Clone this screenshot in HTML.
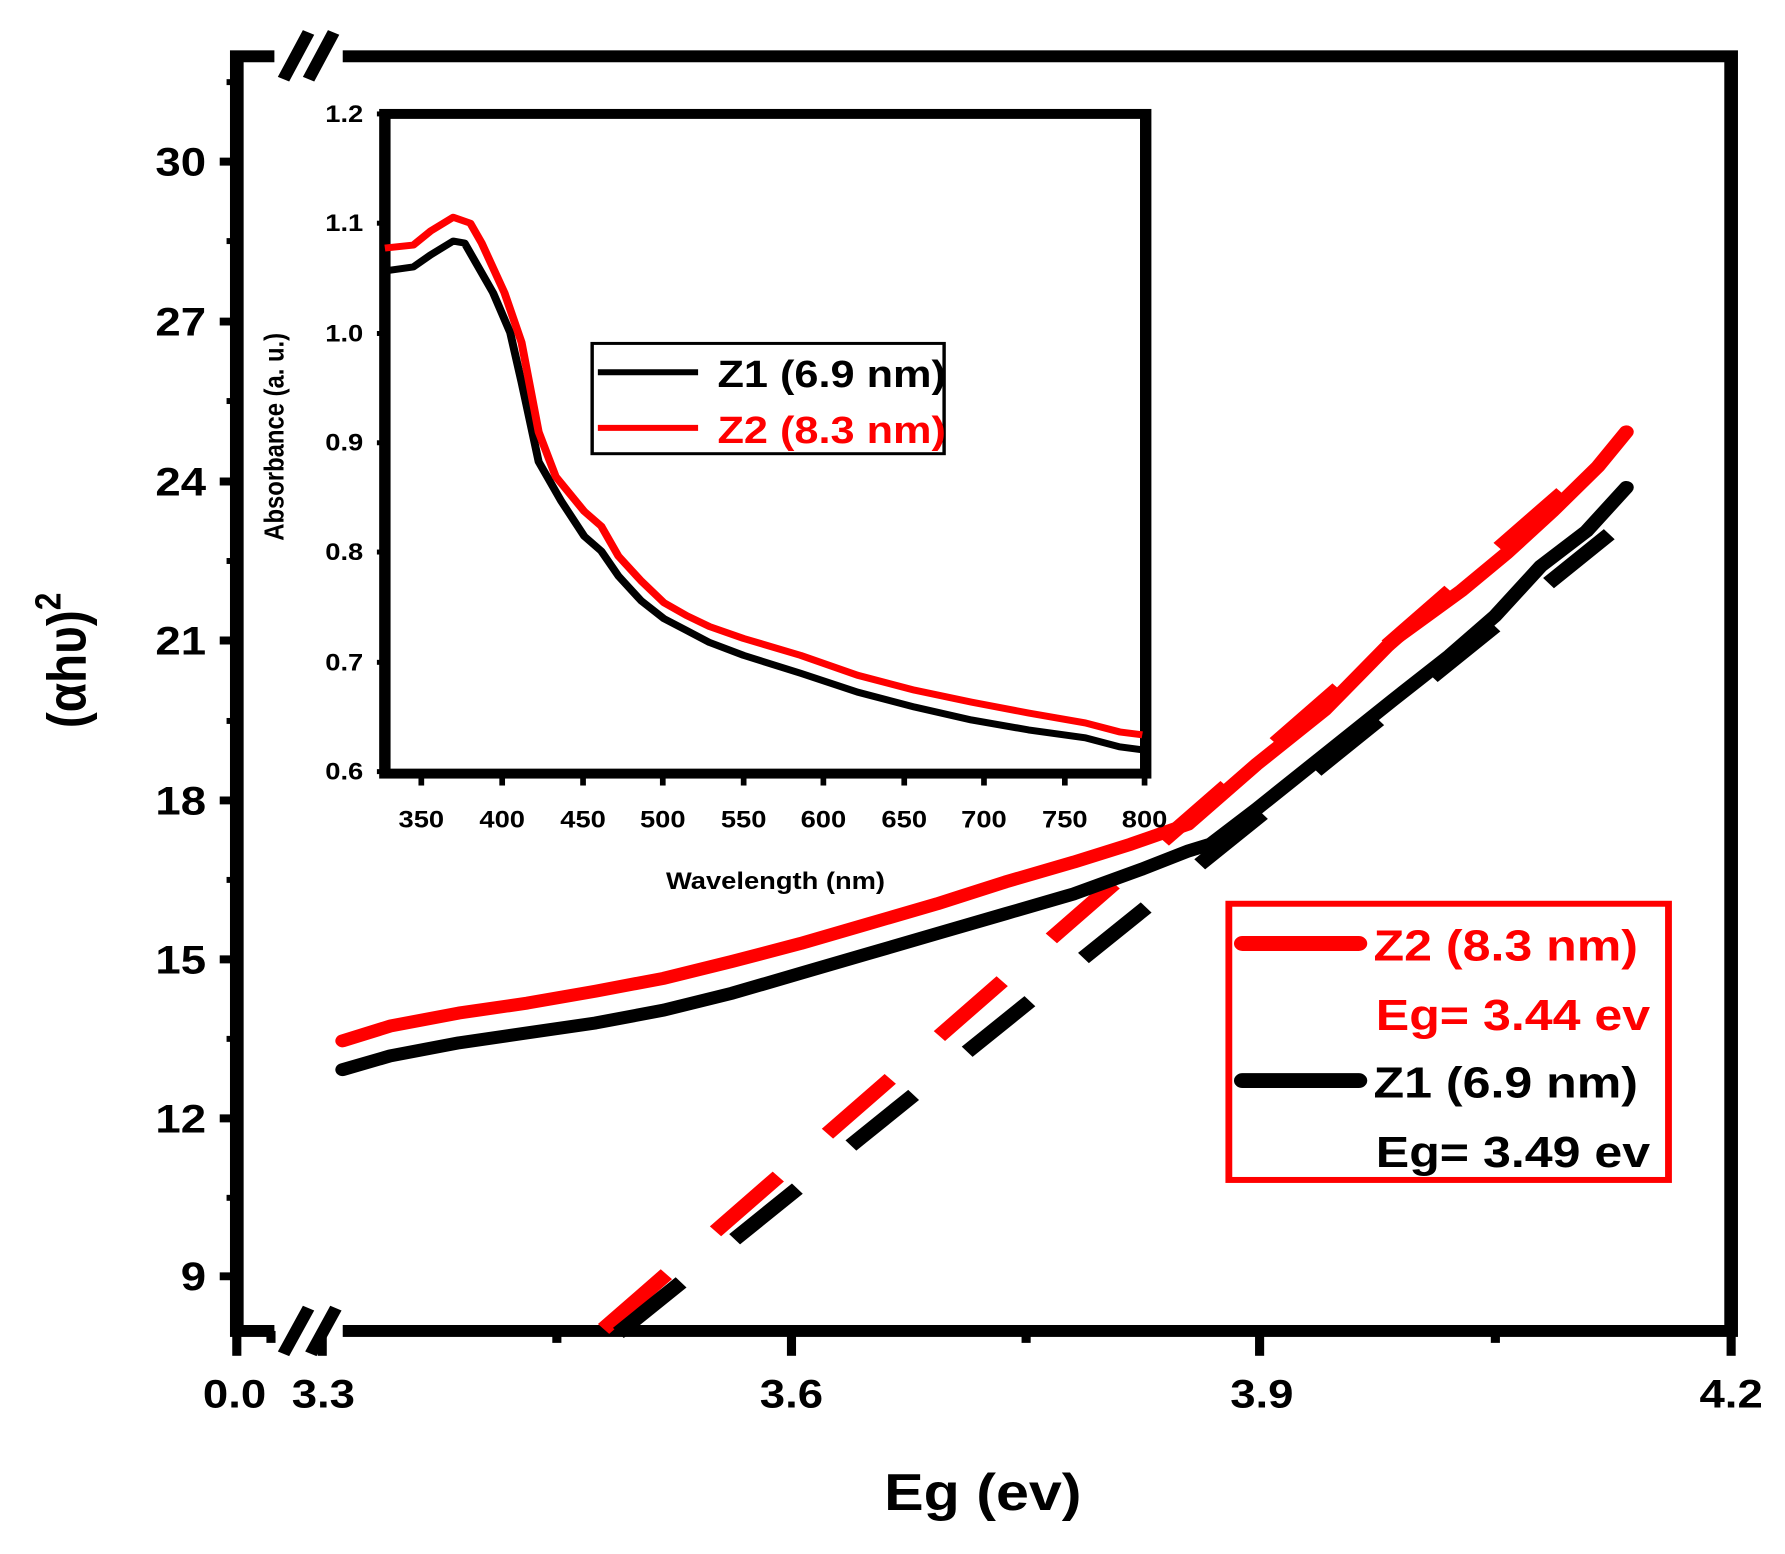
<!DOCTYPE html>
<html><head><style>
html,body{margin:0;padding:0;background:#fff;}
svg{display:block;}
text{font-family:"Liberation Sans",sans-serif;font-weight:bold;}
</style></head><body>
<svg width="1785" height="1554" viewBox="0 0 1560 1554" preserveAspectRatio="none" xmlns="http://www.w3.org/2000/svg">
<rect width="1560" height="1554" fill="#fff"/>
<g transform="matrix(0.9954 0 0 0.9935 2.9 -5.3)">
<rect x="205" y="62" width="1312" height="1283" fill="none" stroke="#000" stroke-width="12"/>
<rect x="238" y="50" width="60" height="24" fill="#fff"/>
<g stroke="#000" stroke-width="11">
<line x1="246" y1="85" x2="268" y2="38"/><line x1="268" y1="85" x2="290" y2="38"/>
</g>
<rect x="238" y="1330" width="60" height="30" fill="#fff"/>
<g stroke="#000" stroke-width="11">
<line x1="246" y1="1368" x2="268" y2="1322"/><line x1="270" y1="1368" x2="292" y2="1322"/>
</g>
<g stroke="#000" stroke-width="8">
<line x1="190" y1="168" x2="205" y2="168"/><line x1="190" y1="329" x2="205" y2="329"/>
<line x1="190" y1="490" x2="205" y2="490"/><line x1="190" y1="650" x2="205" y2="650"/>
<line x1="190" y1="811" x2="205" y2="811"/><line x1="190" y1="971" x2="205" y2="971"/>
<line x1="190" y1="1131" x2="205" y2="1131"/><line x1="190" y1="1290" x2="205" y2="1290"/>
</g>
<g stroke="#000" stroke-width="6">
<line x1="196" y1="88" x2="205" y2="88"/><line x1="196" y1="248" x2="205" y2="248"/>
<line x1="196" y1="409" x2="205" y2="409"/><line x1="196" y1="570" x2="205" y2="570"/>
<line x1="196" y1="731" x2="205" y2="731"/><line x1="196" y1="891" x2="205" y2="891"/>
<line x1="196" y1="1051" x2="205" y2="1051"/><line x1="196" y1="1211" x2="205" y2="1211"/>
</g>
<g stroke="#000" stroke-width="8">
<line x1="205" y1="1345" x2="205" y2="1370"/><line x1="280" y1="1345" x2="280" y2="1370"/>
<line x1="692" y1="1345" x2="692" y2="1370"/><line x1="1103" y1="1345" x2="1103" y2="1370"/>
<line x1="1517" y1="1345" x2="1517" y2="1370"/>
<line x1="235" y1="1345" x2="235" y2="1357"/><line x1="486" y1="1345" x2="486" y2="1357"/>
<line x1="898" y1="1345" x2="898" y2="1357"/><line x1="1310" y1="1345" x2="1310" y2="1357"/>
</g>
<g font-size="40" text-anchor="end">
<text x="178" y="182">30</text><text x="178" y="343">27</text><text x="178" y="504">24</text>
<text x="178" y="664">21</text><text x="178" y="825">18</text><text x="178" y="985">15</text>
<text x="178" y="1145">12</text><text x="178" y="1304">9</text>
</g>
<g font-size="40" text-anchor="middle">
<text x="203" y="1422">0.0</text><text x="281" y="1422">3.3</text><text x="692" y="1422">3.6</text>
<text x="1105" y="1422">3.9</text><text x="1517" y="1422">4.2</text>
</g>
<text x="860" y="1525" font-size="52" text-anchor="middle">Eg (ev)</text>
<text transform="translate(72,670) rotate(-90)" font-size="48" text-anchor="middle">(αhυ)<tspan dy="-22" font-size="32">2</tspan></text>
<line x1="527" y1="1343" x2="1372" y2="498" stroke="#f00" stroke-width="14" stroke-dasharray="78 61"/>
<line x1="540" y1="1347" x2="1410" y2="543" stroke="#000" stroke-width="14" stroke-dasharray="75 64"/>
<polyline fill="none" stroke="#000" stroke-width="13" stroke-linecap="round" stroke-linejoin="round" points="298,1082 340,1068 400,1055 460,1045 520,1035 580,1022 640,1005 700,985 760,965 820,945 880,925 940,905 1000,880 1040,862 1060,855 1100,820 1160,765 1220,710 1270,665 1310,625 1350,575 1390,540 1425,496"/>
<polyline fill="none" stroke="#f00" stroke-width="13" stroke-linecap="round" stroke-linejoin="round" points="298,1053 340,1038 400,1025 460,1015 520,1003 580,990 640,973 700,955 760,935 820,915 880,893 940,873 990,855 1040,835 1060,815 1100,775 1160,720 1220,650 1280,600 1320,562 1360,520 1400,475 1425,440"/>
<rect x="1076" y="915" width="386" height="278" fill="#fff" stroke="#f00" stroke-width="6"/>
<line x1="1088" y1="955" x2="1190" y2="955" stroke="#f00" stroke-width="15" stroke-linecap="round"/>
<line x1="1088" y1="1093" x2="1190" y2="1093" stroke="#000" stroke-width="15" stroke-linecap="round"/>
<g font-size="44">
<text x="1203" y="972" fill="#f00">Z2 (8.3 nm)</text>
<text x="1205" y="1042" fill="#f00">Eg= 3.44 ev</text>
<text x="1203" y="1110">Z1 (6.9 nm)</text>
<text x="1205" y="1180">Eg= 3.49 ev</text>
</g>
<rect x="335" y="120" width="668" height="664" fill="#fff" stroke="#000" stroke-width="10"/>
<g stroke="#000" stroke-width="5">
<line x1="328" y1="120" x2="335" y2="120"/><line x1="328" y1="230" x2="335" y2="230"/>
<line x1="328" y1="341" x2="335" y2="341"/><line x1="328" y1="451" x2="335" y2="451"/>
<line x1="328" y1="561" x2="335" y2="561"/><line x1="328" y1="672" x2="335" y2="672"/>
<line x1="328" y1="782" x2="335" y2="782"/>
<line x1="367" y1="784" x2="367" y2="796"/><line x1="438" y1="784" x2="438" y2="796"/>
<line x1="509" y1="784" x2="509" y2="796"/><line x1="579" y1="784" x2="579" y2="796"/>
<line x1="650" y1="784" x2="650" y2="796"/><line x1="720" y1="784" x2="720" y2="796"/>
<line x1="791" y1="784" x2="791" y2="796"/><line x1="861" y1="784" x2="861" y2="796"/>
<line x1="932" y1="784" x2="932" y2="796"/><line x1="1002" y1="784" x2="1002" y2="796"/>
</g>
<g font-size="24" text-anchor="end">
<text x="316" y="128">1.2</text><text x="316" y="238">1.1</text><text x="316" y="349">1.0</text>
<text x="316" y="459">0.9</text><text x="316" y="569">0.8</text><text x="316" y="680">0.7</text>
<text x="316" y="790">0.6</text>
</g>
<g font-size="24" text-anchor="middle">
<text x="367" y="838">350</text><text x="438" y="838">400</text><text x="509" y="838">450</text>
<text x="579" y="838">500</text><text x="650" y="838">550</text><text x="720" y="838">600</text>
<text x="791" y="838">650</text><text x="861" y="838">700</text><text x="932" y="838">750</text>
<text x="1002" y="838">800</text>
</g>
<text x="678" y="900" font-size="24" text-anchor="middle">Wavelength (nm)</text>
<text transform="translate(246,445) rotate(-90)" font-size="24" text-anchor="middle">Absorbance (a. u.)</text>
<polyline fill="none" stroke="#000" stroke-width="7" stroke-linejoin="round" points="335,278 360,274 375,262 395,248 405,250 415,270 430,300 445,340 455,390 470,470 490,510 510,545 525,560 540,585 560,610 580,628 600,640 620,652 650,665 700,683 750,702 800,717 850,730 900,740 950,748 980,757 1000,760"/>
<polyline fill="none" stroke="#f00" stroke-width="7" stroke-linejoin="round" points="335,255 360,252 375,238 395,224 410,230 420,250 440,300 455,350 470,440 485,485 510,520 525,535 540,565 560,590 580,612 600,625 620,636 650,648 700,665 750,685 800,700 850,712 900,723 950,733 980,742 1000,745"/>
<rect x="517" y="351" width="309" height="111" fill="#fff" stroke="#000" stroke-width="3"/>
<line x1="522" y1="380" x2="610" y2="380" stroke="#000" stroke-width="6"/>
<line x1="522" y1="436" x2="610" y2="436" stroke="#f00" stroke-width="6"/>
<g font-size="38">
<text x="627" y="395">Z1 (6.9 nm)</text>
<text x="627" y="451" fill="#f00">Z2 (8.3 nm)</text>
</g>
</g>
</svg>
</body></html>
